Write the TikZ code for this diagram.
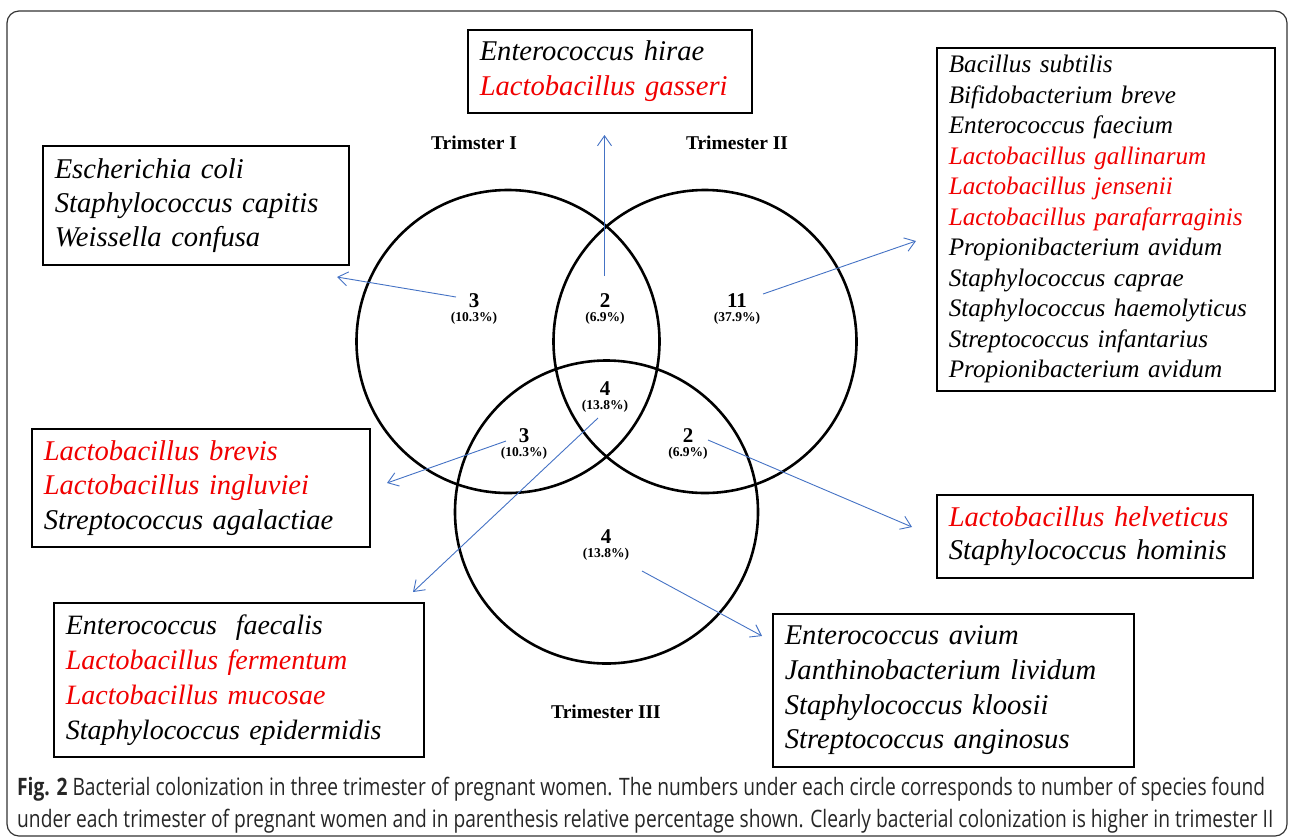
\documentclass[tikz,border=0pt]{standalone}
\usepackage{fontspec}
\setmainfont{Liberation Serif}[ItalicFont={Liberation Serif Italic},BoldFont={Liberation Serif Bold}]
\newfontfamily\capfont[FakeStretch=0.8]{Open Sans}
\usetikzlibrary{arrows.meta,positioning}
\definecolor{arrowblue}{RGB}{68,114,196}
\definecolor{spred}{RGB}{240,0,0}

\begin{document}
\begin{tikzpicture}[x=1pt,y=-1pt,
    circ/.style={line width=2.6pt},
    spbox/.style={draw,line width=1.5pt,anchor=north west,align=left,inner xsep=12pt,inner ysep=0pt,
        font=\itshape\fontsize{28.6}{35}\selectfont},
    tlabel/.style={font=\bfseries\fontsize{19.5}{22}\selectfont},
    cnt/.style={font=\bfseries\fontsize{21}{22}\selectfont,inner sep=0pt},
    pct/.style={font=\bfseries\fontsize{13.5}{15}\selectfont,inner sep=0pt},
    capt/.style={anchor=west,inner sep=0pt,font=\capfont\fontsize{24}{27}\selectfont,text=black!85},
    arr/.style={arrowblue,line width=0.9pt,-{Straight Barb[length=10pt,width=14pt]}}]
    \useasboundingbox (0,0) rectangle (1290,839);
    \draw[black!80,line width=1.2pt,rounded corners=12pt] (7,11) rectangle (1287,836);

    \coordinate (cI) at (508,341.5);
    \coordinate (cII) at (705,341.5);
    \coordinate (cIII) at (606.5,512);
    \draw[circ] (cI) circle (151.5);
    \draw[circ] (cII) circle (151.5);
    \draw[circ] (cIII) circle (151.5);

    \node[tlabel] (tI) at (474,143) {Trimster I};
    \node[tlabel] (tII) at (737,143) {Trimester II};
    \node[tlabel] (tIII) at (606,712) {Trimester III};

    \node[cnt] (nI) at (474,301) {3};
    \node[pct,below=4pt of nI] (pI) {(10.3\%)};
    \node[cnt] (nIII) at (605,301) {2};
    \node[pct,below=4pt of nIII] (pIII) {(6.9\%)};
    \node[cnt] (nII) at (737,301) {11};
    \node[pct,below=4pt of nII] (pII) {(37.9\%)};
    \node[cnt] (nall) at (605,389) {4};
    \node[pct,below=4pt of nall] (pall) {(13.8\%)};
    \node[cnt] (nIIII) at (524,436) {3};
    \node[pct,below=4pt of nIIII] (pIIII) {(10.3\%)};
    \node[cnt] (nIIIII) at (688,436) {2};
    \node[pct,below=4pt of nIIIII] (pIIIII) {(6.9\%)};
    \node[cnt] (nIIIo) at (606,537) {4};
    \node[pct,below=4pt of nIIIo] (pIIIo) {(13.8\%)};

    \node[spbox,text width=260pt,minimum height=83pt] (hirae) at (467,29)
        {Enterococcus hirae\\\textcolor{spred}{Lactobacillus gasseri}};
    \node[spbox,text width=282pt,minimum height=119pt,font=\itshape\fontsize{28.6}{34}\selectfont] (coli) at (42,145)
        {Escherichia coli\\Staphylococcus capitis\\Weissella confusa};
    \node[spbox,text width=314pt,minimum height=343pt,font=\itshape\fontsize{25.2}{30.5}\selectfont] (subtilis) at (936,47)
        {Bacillus subtilis\\Bifidobacterium breve\\Enterococcus faecium\\
        \textcolor{spred}{Lactobacillus gallinarum}\\\textcolor{spred}{Lactobacillus jensenii}\\
        \textcolor{spred}{Lactobacillus parafarraginis}\\Propionibacterium avidum\\Staphylococcus caprae\\
        Staphylococcus haemolyticus\\Streptococcus infantarius\\Propionibacterium avidum};
    \node[spbox,text width=314pt,minimum height=118pt,font=\itshape\fontsize{28.6}{34.5}\selectfont] (brevis) at (31,428)
        {\textcolor{spred}{Lactobacillus brevis}\\\textcolor{spred}{Lactobacillus ingluviei}\\Streptococcus agalactiae};
    \node[spbox,text width=346pt,minimum height=154pt,font=\itshape\fontsize{28}{35}\selectfont] (faecalis) at (53,602)
        {Enterococcus\ \ faecalis\\\textcolor{spred}{Lactobacillus fermentum}\\
        \textcolor{spred}{Lactobacillus mucosae}\\Staphylococcus epidermidis};
    \node[spbox,text width=292pt,minimum height=83pt,font=\itshape\fontsize{28.6}{33}\selectfont] (helveticus) at (936,494)
        {\textcolor{spred}{Lactobacillus helveticus}\\Staphylococcus hominis};
    \node[spbox,text width=337pt,minimum height=153pt,font=\itshape\fontsize{28.6}{34.7}\selectfont] (avium) at (772,613)
        {Enterococcus avium\\Janthinobacterium lividum\\Staphylococcus kloosii\\Streptococcus anginosus};

    \coordinate (sI) at (456,297);
    \coordinate (aI) at (337,277);
    \coordinate (sIII) at (604.5,276);
    \coordinate (aIII) at (604.5,135);
    \coordinate (sII) at (763,294);
    \coordinate (aII) at (916,241);
    \coordinate (sIIII) at (506,441);
    \coordinate (aIIII) at (387,483);
    \coordinate (sall) at (598,418);
    \coordinate (aall) at (413,592);
    \coordinate (sIIIII) at (708,440);
    \coordinate (aIIIII) at (912,527);
    \coordinate (sIIIo) at (642,571);
    \coordinate (aIIIo) at (762,636);
    \draw[arr] (sI) -- (aI);
    \draw[arr] (sIII) -- (aIII);
    \draw[arr] (sII) -- (aII);
    \draw[arr] (sIIII) -- (aIIII);
    \draw[arr] (sall) -- (aall);
    \draw[arr] (sIIIII) -- (aIIIII);
    \draw[arr] (sIIIo) -- (aIIIo);

    \node[capt] (cap1) at (17,789) {\textbf{Fig. 2} Bacterial colonization in three trimester of pregnant women. The numbers under each circle corresponds to number of species found};
    \node[capt] (cap2) at (17,821) {under each trimester of pregnant women and in parenthesis relative percentage shown. Clearly bacterial colonization is higher in trimester II};
\end{tikzpicture}
\end{document}
